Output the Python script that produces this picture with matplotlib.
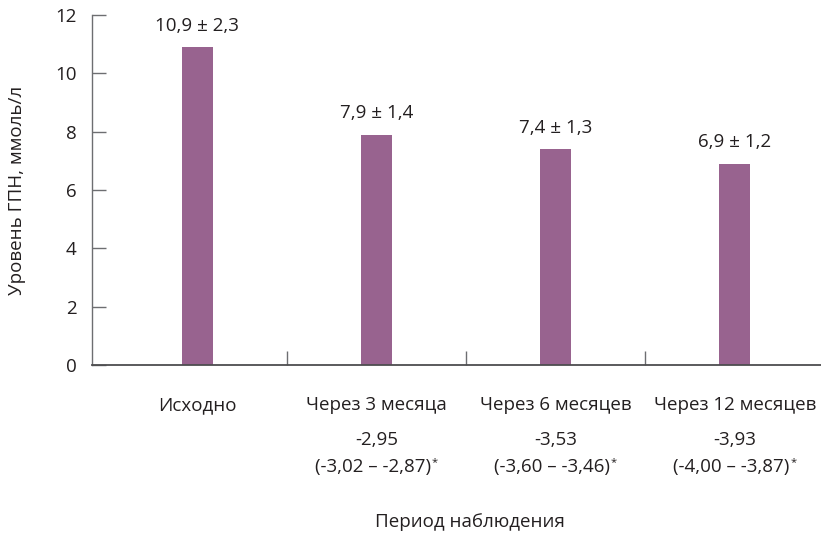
import matplotlib
matplotlib.use("Agg")
import matplotlib.pyplot as plt
from matplotlib.ticker import FixedLocator

plt.rcParams['font.family'] = ['Open Sans', 'DejaVu Sans']

categories = ["Исходно", "Через 3 месяца", "Через 6 месяцев", "Через 12 месяцев"]
values = [10.9, 7.9, 7.4, 6.9]
value_labels = ["10,9 ± 2,3", "7,9 ± 1,4", "7,4 ± 1,3", "6,9 ± 1,2"]
diff_values = [None, "-2,95", "-3,53", "-3,93"]
diff_ci = [None, "(-3,02 – -2,87)", "(-3,60 – -3,46)", "(-4,00 – -3,87)"]
yticks = [0, 2, 4, 6, 8, 10, 12]

bar_color = "#98638F"
text_color = "#231F20"
axis_color = "#6D6E71"
fs = 13.5

fig = plt.figure(figsize=(8.21, 5.44), dpi=100)
ax = fig.add_axes([92/821, 179/544, (821-92)/821, 350/544])

x = list(range(len(categories)))
ax.bar(x, values, width=0.173, color=bar_color, zorder=2)

ax.set_xlim(-0.586, 3.48)
ax.set_ylim(0, 12)
ax.set_yticks(yticks)
ax.set_yticklabels([str(v) for v in yticks])

for s in ['top', 'right']:
    ax.spines[s].set_visible(False)
ax.spines['left'].set_color(axis_color)
ax.spines['bottom'].set_color("#4D4D4F")
ax.spines['left'].set_linewidth(1.0)
ax.spines['bottom'].set_linewidth(1.3)

ax.tick_params(axis='y', direction='in', length=10, width=1.0, color=axis_color,
               pad=11, labelsize=fs, labelcolor=text_color)
ax.set_xticks([])
ax.xaxis.set_minor_locator(FixedLocator([0.5, 1.5, 2.5]))
ax.tick_params(axis='x', which='minor', direction='in', length=10, width=1.0, color=axis_color)

for xi, v, lab in zip(x, values, value_labels):
    ax.annotate(lab, xy=(xi, v), xytext=(0, 9), textcoords='offset points',
                ha='center', va='bottom', fontsize=fs, color=text_color)

tr = ax.get_xaxis_transform()
for xi, cat, dv, ci in zip(x, categories, diff_values, diff_ci):
    ax.text(xi, -0.114, cat, transform=tr, ha='center', va='center', fontsize=fs, color=text_color)
    if dv is not None:
        ax.text(xi, -0.214, dv, transform=tr, ha='center', va='center', fontsize=fs, color=text_color)
        t = ax.text(xi - 0.02, -0.291, ci, transform=tr, ha='center', va='center', fontsize=fs, color=text_color)
        ax.annotate("*", xy=(1, 0.75), xycoords=t, xytext=(0.5, 0), textcoords='offset points',
                    ha='left', va='center', fontsize=8, color=text_color)

fig.text(470/821, 1 - 522/544, "Период наблюдения", ha='center', va='center', fontsize=fs, color=text_color)
fig.text(17/821, 1 - 190/544, "Уровень ГПН, ммоль/л", ha='center', va='center', rotation=90,
         fontsize=fs, color=text_color)

fig.savefig("out.png", dpi=100)
